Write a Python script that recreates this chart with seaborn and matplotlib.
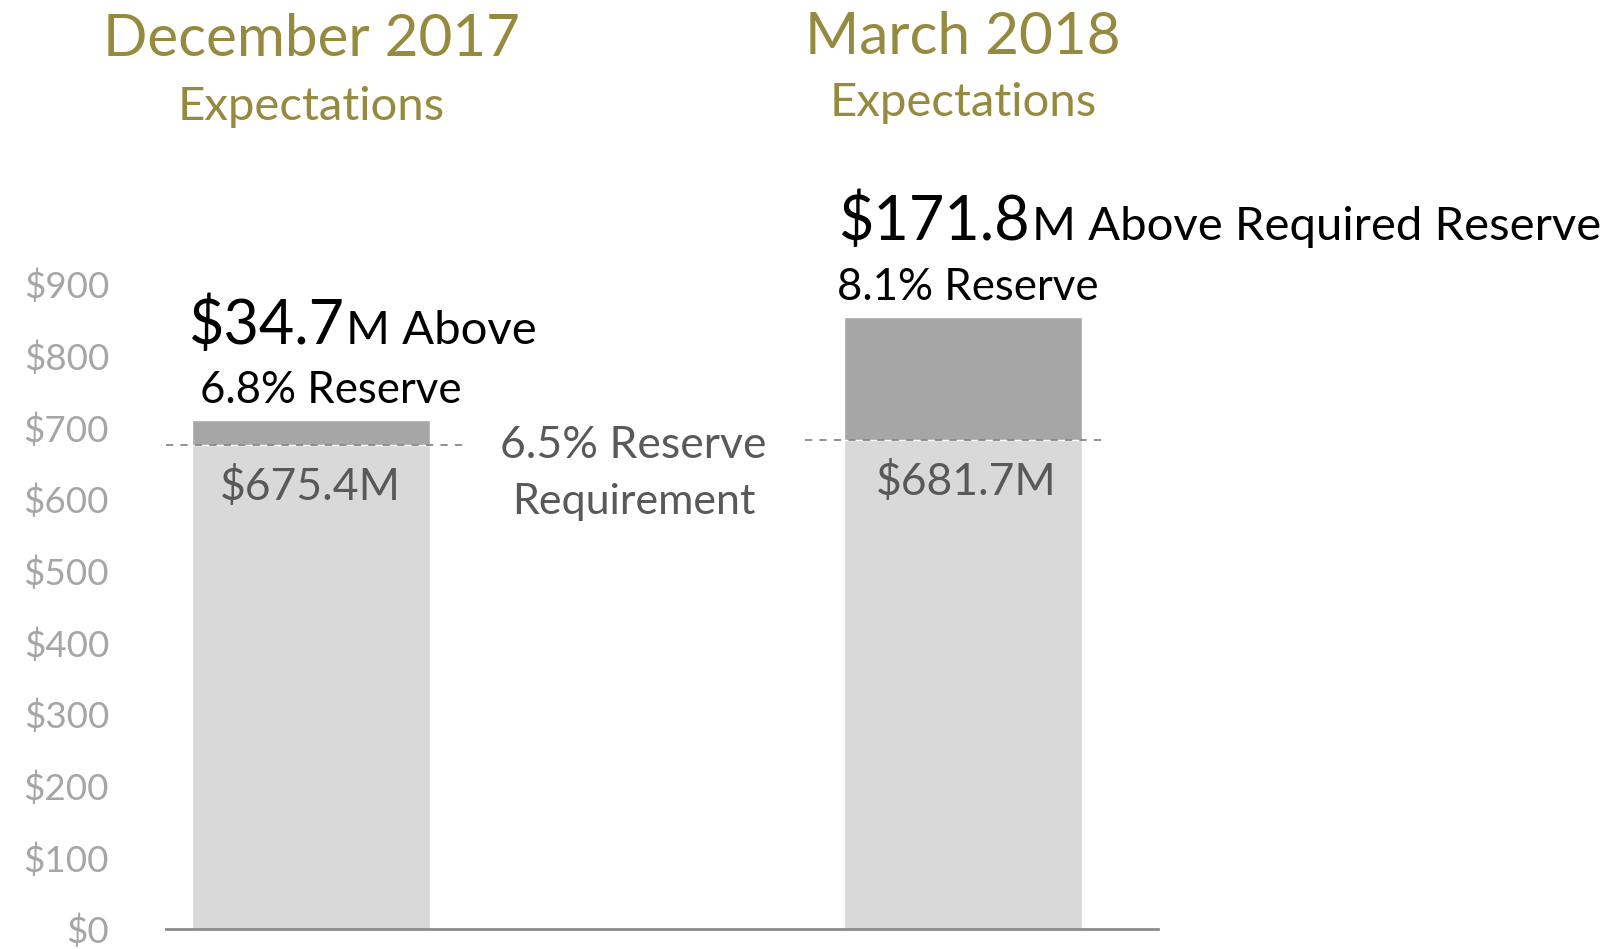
import matplotlib
matplotlib.use("Agg")
import matplotlib.pyplot as plt
import seaborn as sns
import pandas as pd

# Data
periods = ["December 2017", "March 2018"]
required = [675.4, 681.7]          # required reserve level ($M)
above = [34.7, 171.8]              # amount above required ($M)
reserve_pct = ["6.8% Reserve", "8.1% Reserve"]
yticks = [0, 100, 200, 300, 400, 500, 600, 700, 800, 900]

df = pd.DataFrame({"period": periods, "required": required, "above": above})
df["total"] = df["required"] + df["above"]

GOLD = "#958a3e"
LIGHT = "#d9d9d9"
DARK = "#a6a6a6"
TXT = "#595959"

sns.set_style("white")
plt.rcParams["font.family"] = ["Lato", "DejaVu Sans"]

fig = plt.figure(figsize=(16.24, 9.49), dpi=100)
ax = fig.add_axes([166 / 1624, 1 - 929 / 949, (1158 - 166) / 1624, (929 - 284) / 949])

# stacked bars: total (dark) underneath, required (light) on top
sns.barplot(data=df, x="period", y="total", color=DARK, width=0.365,
            saturation=1, ax=ax, zorder=2)
sns.barplot(data=df, x="period", y="required", color=LIGHT, width=0.365,
            saturation=1, ax=ax, zorder=3)

ax.set_xlim(-0.222, 1.299)
ax.set_ylim(0, 900)
ax.set_yticks(yticks)
ax.set_yticklabels([f"${v}" for v in yticks], fontsize=26.5, color="#a6a6a6")
ax.set_xticks([])
ax.set_xlabel("")
ax.set_ylabel("")
ax.tick_params(axis="y", length=0, pad=41)
sns.despine(ax=ax, left=True, top=True, right=True)
ax.spines["bottom"].set_color("#8c8c8c")
ax.spines["bottom"].set_linewidth(2)
ax.spines["bottom"].set_zorder(5)

# required reserve dashed lines
ax.hlines(required[0], -0.222, 0.240, colors="#888888", linestyles=(0, (4, 4)),
          linewidth=1.3, zorder=4, clip_on=False)
ax.hlines(required[1], 0.757, 1.220, colors="#888888", linestyles=(0, (4, 4)),
          linewidth=1.3, zorder=4, clip_on=False)

# labels inside light bars
for i, v in enumerate(required):
    ax.text(i + (0.005 if i else 0), v - 58, f"${v}M", ha="center", va="center",
            fontsize=32, color=TXT, zorder=6)

ax.text(0.495, 675, "6.5% Reserve", ha="center", va="center", fontsize=32, color=TXT)
ax.text(0.495, 596, "Requirement", ha="center", va="center", fontsize=31, color=TXT)

# reserve percentages
ax.text(0.03, 752, reserve_pct[0], ha="center", va="center", fontsize=31.5, color="black")
ax.text(1.008, 895, reserve_pct[1], ha="center", va="center", fontsize=31.5, color="black")

# amounts above required: big number + smaller suffix
fig.canvas.draw()
renderer = fig.canvas.get_renderer()


def above_label(x, y, big, small):
    t = ax.text(x, y, big, ha="left", va="baseline", fontsize=44, color="black")
    bb = t.get_window_extent(renderer)
    x_disp = bb.x1 + 2
    y_disp = ax.transData.transform((x, y))[1]
    fig.text(x_disp / fig.bbox.width, y_disp / fig.bbox.height, small,
             ha="left", va="baseline", fontsize=34, color="black")


above_label(-0.189, 816, f"${above[0]}", "M Above")
above_label(0.809, 961, f"${above[1]}", "M Above Required Reserve")

# period titles
fig.text(311 / 1624, 1 - 40 / 949, periods[0], ha="center", va="center",
         fontsize=42, color=GOLD)
fig.text(311 / 1624, 1 - 107 / 949, "Expectations", ha="center", va="center",
         fontsize=34, color=GOLD)
fig.text(963 / 1624, 1 - 37 / 949, periods[1], ha="center", va="center",
         fontsize=42, color=GOLD)
fig.text(963 / 1624, 1 - 103 / 949, "Expectations", ha="center", va="center",
         fontsize=34, color=GOLD)

fig.savefig("out.png", dpi=100)
